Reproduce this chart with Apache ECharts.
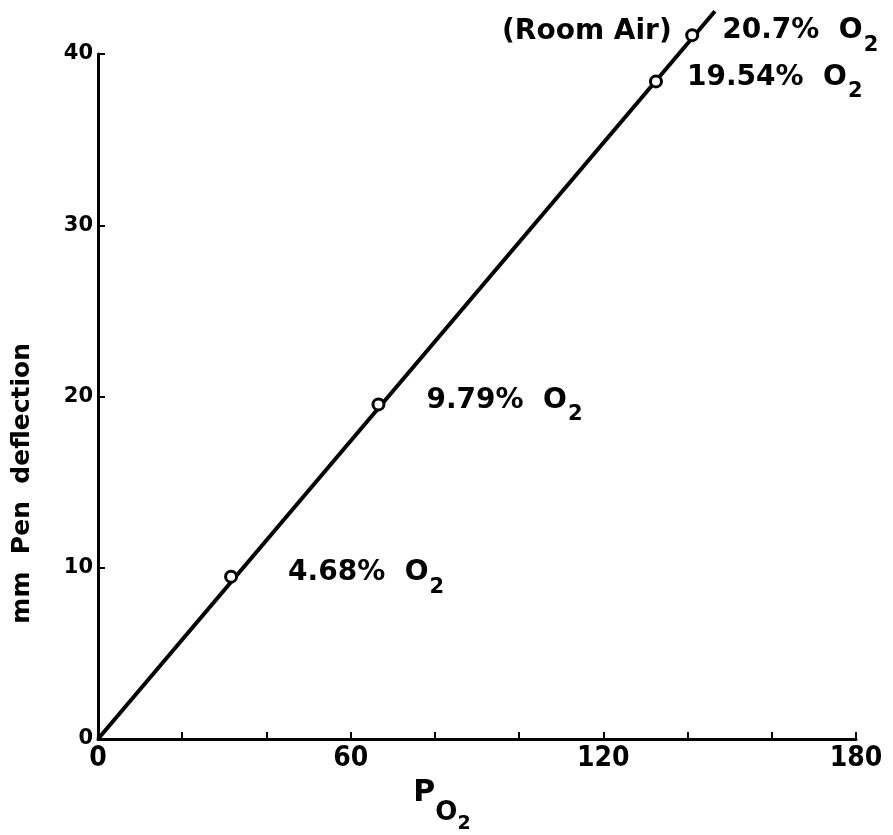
<!DOCTYPE html>
<html>
<head>
<meta charset="utf-8">
<script src="https://cdn.jsdelivr.net/npm/echarts@6/dist/echarts.min.js"></script>
<style>
  html, body { margin: 0; padding: 0; background: #fff; }
  #chart { width: 893px; height: 835px; }
</style>
</head>
<body>
<div id="chart"></div>
<script>
// Calibration points: oxygen partial pressure vs. recorder pen deflection
const po2 = [31.6, 66.6, 132.5, 141.1];
const deflection = [9.48, 19.54, 38.4, 41.1];
const oxygenPercent = ['4.68', '9.79', '19.54', '20.7'];
const extraNote = ['', '', '', '(Room Air)'];

// Calibration line drawn through the origin
const lineX = [0, 146.5];
const lineY = [0, 42.5];

const xTickLabels = [0, 60, 120, 180];
const yTickLabels = [0, 10, 20, 30, 40];

const FONT = 'DejaVu Sans';
const COND = "'DejaVu Sans Condensed', 'DejaVu Sans'";
const INK = '#000000';

const chart = echarts.init(document.getElementById('chart'), null, { renderer: 'canvas' });

const pointRich = {
  t: { fontFamily: FONT, fontSize: 28, fontWeight: 'bold', color: INK, lineHeight: 30, verticalAlign: 'top' },
  s: { fontFamily: FONT, fontSize: 21, fontWeight: 'bold', color: INK, lineHeight: 21, padding: [18, 0, 0, 1], verticalAlign: 'top' },
  n: { fontFamily: FONT, fontSize: 28, fontWeight: 'bold', color: INK, lineHeight: 30, verticalAlign: 'top' }
};
const labelDistance = [50, 41, 24, 23];

const pointData = po2.map((x, i) => ({
  value: [x, deflection[i]],
  label: {
    show: true,
    position: 'right',
    distance: labelDistance[i],
    offset: [0, -3],
    color: INK,
    formatter: '{t|' + oxygenPercent[i] + '%  O}{s|2}',
    rich: pointRich
  }
}));

const noteData = po2.map((x, i) => extraNote[i] ? ({
  value: [x, deflection[i]],
  label: {
    show: true,
    position: 'left',
    distance: 20,
    offset: [0, -2],
    color: INK,
    formatter: '{n|' + extraNote[i] + '}',
    rich: pointRich
  }
}) : null).filter(Boolean);

chart.setOption({
  backgroundColor: '#ffffff',
  animation: false,
  grid: { left: 98, right: 37, top: 54, bottom: 96, outerBoundsMode: 'none' },
  xAxis: {
    type: 'value',
    min: 0,
    max: 180,
    interval: 20,
    splitLine: { show: false },
    axisLine: { lineStyle: { color: INK, width: 3 } },
    axisTick: { inside: true, length: 7, lineStyle: { color: INK, width: 2 } },
    axisLabel: {
      margin: 6,
      fontFamily: COND,
      fontSize: 28,
      fontWeight: 'bold',
      color: INK,
      formatter: v => xTickLabels.includes(v) ? String(v) : ''
    },
    name: '{p|P}{o|O}{d|2}',
    nameLocation: 'middle',
    nameGap: 37,
    nameTextStyle: {
      padding: [0, 70, 0, 0],
      rich: {
        p: { fontFamily: FONT, fontSize: 30, fontWeight: 'bold', color: INK, lineHeight: 30, verticalAlign: 'top' },
        o: { fontFamily: FONT, fontSize: 26, fontWeight: 'bold', color: INK, lineHeight: 26, padding: [22, 0, 0, 0], verticalAlign: 'top' },
        d: { fontFamily: FONT, fontSize: 19, fontWeight: 'bold', color: INK, lineHeight: 19, padding: [37, 0, 0, 0], verticalAlign: 'top' }
      }
    }
  },
  yAxis: {
    type: 'value',
    min: 0,
    max: 40,
    interval: 10,
    splitLine: { show: false },
    axisLine: { lineStyle: { color: INK, width: 3 } },
    axisTick: { inside: true, length: 7, lineStyle: { color: INK, width: 2 } },
    axisLabel: {
      margin: 5,
      fontFamily: FONT,
      fontSize: 21,
      fontWeight: 'bold',
      color: INK,
      formatter: v => yTickLabels.includes(v) ? String(v) : ''
    }
  },
  graphic: [{
    type: 'text',
    left: 10,
    top: 343,
    rotation: Math.PI / 2,
    style: {
      text: 'mm  Pen  deflection',
      fontFamily: FONT,
      fontSize: 25,
      fontWeight: 'bold',
      fill: INK
    }
  }],
  series: [
    {
      type: 'line',
      data: lineX.map((x, i) => [x, lineY[i]]),
      clip: false,
      symbol: 'none',
      lineStyle: { color: INK, width: 4 },
      z: 2
    },
    {
      type: 'scatter',
      data: pointData,
      clip: false,
      symbol: 'circle',
      symbolSize: 11,
      itemStyle: { color: '#fff', borderColor: INK, borderWidth: 3, opacity: 1 },
      z: 3
    },
    {
      type: 'scatter',
      data: noteData,
      clip: false,
      symbolSize: 1,
      itemStyle: { color: 'rgba(0,0,0,0)', opacity: 1 },
      z: 1
    }
  ]
});
</script>
</body>
</html>
